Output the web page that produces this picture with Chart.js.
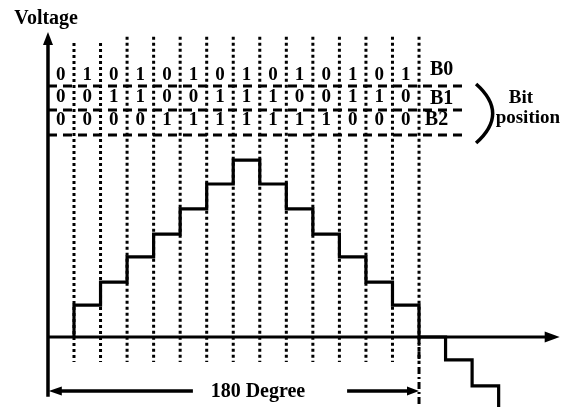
<!DOCTYPE html>
<html>
<head>
<meta charset="utf-8">
<script src="https://cdn.jsdelivr.net/npm/chart.js@4/dist/chart.umd.min.js"></script>
<style>
html, body { margin: 0; padding: 0; background: #fff; }
#graficoArea { width: 562px; height: 407px; position: relative; }
</style>
</head>
<body>
<div id="graficoArea"><canvas id="grafico"></canvas></div>
<script>
// Intervalos de amostragem (um por linha pontilhada) e o nível de tensão em cada um
const intervalos = [0, 1, 2, 3, 4, 5, 6, 7, 8, 9, 10, 11, 12, 13, 14, 15, 16, 17]
const niveis = [1.31, 2.25, 3.28, 4.22, 5.25, 6.27, 7.25, 6.27, 5.25, 4.22, 3.28, 2.25, 1.31, 0, -0.94, -2.0, -2.95, -2.95]

// Bits de cada intervalo (linha B0, B1, B2)
const bitB0 = [0, 1, 0, 1, 0, 1, 0, 1, 0, 1, 0, 1, 0, 1]
const bitB1 = [0, 0, 1, 1, 0, 0, 1, 1, 1, 0, 0, 1, 1, 0]
const bitB2 = [0, 0, 0, 0, 1, 1, 1, 1, 1, 1, 1, 0, 0, 0]
const nomesBits = ["B0", "B1", "B2"]

// Textos
const tituloEixoY = "Voltage"
const tituloEixoX = "180 Degree"
const rotuloBits = ["Bit", "position"]

// Monta os pontos da forma de onda em degrau (começa no eixo em 0)
let pontosDegrau = [{ x: intervalos[0], y: 0 }]
for (let i = 0; i < intervalos.length; i++) {
    pontosDegrau.push({ x: intervalos[i], y: niveis[i] })
}
// O degrau de cada intervalo dura até o próximo ponto
pontosDegrau.push({ x: 18.4, y: niveis[niveis.length - 1] })

// Linhas pontilhadas verticais, uma por bit (com null para separar)
let pontosPontilhados = []
for (let i = 0; i < bitB0.length; i++) {
    let topo = i < 2 ? 12.05 : 12.3
    pontosPontilhados.push({ x: i, y: topo }, { x: i, y: -1.02 }, { x: i, y: null })
}

// Linhas tracejadas horizontais que separam as linhas de bits
let pontosTracejados = [
    { x: -0.98, y: 10.29 }, { x: 14.8, y: 10.29 }, { x: 14.8, y: null },
    { x: -0.98, y: 9.3 }, { x: 14.62, y: 9.3 }, { x: 14.62, y: null },
    { x: -0.98, y: 8.28 }, { x: 14.8, y: 8.28 }
]

// Desenha uma ponta de seta
function ponta(ctx, x, y, dx, dy, comp, larg) {
    ctx.beginPath()
    ctx.moveTo(x, y)
    ctx.lineTo(x - dx * comp - dy * larg / 2, y - dy * comp + dx * larg / 2)
    ctx.lineTo(x - dx * comp + dy * larg / 2, y - dy * comp - dx * larg / 2)
    ctx.closePath()
    ctx.fill()
}

function linha(ctx, x1, y1, x2, y2) {
    ctx.beginPath()
    ctx.moveTo(x1, y1)
    ctx.lineTo(x2, y2)
    ctx.stroke()
}

// Plugin para eixos com setas, textos dos bits e a chave
const desenhosExtras = {
    id: 'desenhosExtras',
    afterDatasetsDraw(chart) {
        const ctx = chart.ctx
        const px = v => chart.scales.x.getPixelForValue(v)
        const py = v => chart.scales.y.getPixelForValue(v)
        ctx.save()
        ctx.strokeStyle = '#000'
        ctx.fillStyle = '#000'
        ctx.lineCap = 'butt'

        // Eixo Y com seta
        ctx.lineWidth = 3.5
        linha(ctx, px(-0.98), py(-2.45), px(-0.98), py(12.1))
        ponta(ctx, px(-0.98), py(12.5), 0, -1, 13, 10)

        // Eixo X com seta
        ctx.lineWidth = 3
        linha(ctx, px(-0.98), py(0), px(17.8), py(0))
        ponta(ctx, px(18.3), py(0), 1, 0, 15, 11)

        // Seta de 180 graus
        ctx.lineWidth = 3.5
        linha(ctx, px(-0.5), py(-2.21), px(4.48), py(-2.21))
        ponta(ctx, px(-0.95), py(-2.21), -1, 0, 13, 9)
        linha(ctx, px(10.29), py(-2.21), px(12.6), py(-2.21))
        ponta(ctx, px(13), py(-2.21), 1, 0, 12, 9)

        // Chave "Bit position"
        ctx.lineWidth = 3.5
        ctx.beginPath()
        ctx.moveTo(px(15.15), py(10.37))
        ctx.quadraticCurveTo(px(16.4), py(9.16), px(15.15), py(7.95))
        ctx.stroke()

        // Textos
        ctx.textBaseline = 'middle'
        ctx.textAlign = 'center'
        ctx.font = 'bold 20px "Liberation Serif"'
        ctx.fillText(tituloEixoY, px(-1.05), py(13.03))
        ctx.fillText(tituloEixoX, px(6.93), py(-2.25))
        ctx.font = 'bold 19px "Liberation Serif"'
        ctx.fillText(rotuloBits[0], px(16.84), py(9.8))
        ctx.fillText(rotuloBits[1], px(17.1), py(8.98))

        ctx.textAlign = 'left'
        ctx.font = 'bold 20px "Liberation Serif"'
        ctx.fillText(nomesBits[0], px(13.41), py(10.94))
        ctx.fillText(nomesBits[1], px(13.41), py(9.75))
        ctx.fillText(nomesBits[2], px(13.22), py(8.89))

        ctx.textAlign = 'center'
        ctx.font = 'bold 19px "Liberation Serif"'
        let linhasBits = [bitB0, bitB1, bitB2]
        let alturas = [10.75, 9.82, 8.9]
        for (let r = 0; r < linhasBits.length; r++) {
            for (let i = 0; i < linhasBits[r].length; i++) {
                ctx.fillText(String(linhasBits[r][i]), px(i - 0.5), py(alturas[r]))
            }
        }
        ctx.restore()
    }
}

const config = {
    type: 'line',
    data: {
        datasets: [
            {
                data: pontosPontilhados,
                borderColor: '#000',
                borderWidth: 3,
                borderDash: [3, 3],
                pointRadius: 0,
                spanGaps: false
            },
            {
                data: pontosTracejados,
                borderColor: '#000',
                borderWidth: 3,
                borderDash: [9, 6],
                pointRadius: 0,
                spanGaps: false
            },
            {
                // Linha traço-ponto no fim dos 180 graus
                data: [{ x: 13, y: 0 }, { x: 13, y: -2.87 }],
                borderColor: '#000',
                borderWidth: 3,
                borderDash: [7, 3, 2, 3],
                pointRadius: 0
            },
            {
                // Forma de onda em degrau (horizontal primeiro, depois vertical)
                data: pontosDegrau,
                borderColor: '#000',
                borderWidth: 3.2,
                stepped: 'before',
                pointRadius: 0,
                fill: false
            }
        ]
    },
    options: {
        responsive: true,
        maintainAspectRatio: false,
        animation: false,
        layout: { padding: 0 },
        plugins: {
            legend: { display: false },
            tooltip: { enabled: false }
        },
        scales: {
            x: { type: 'linear', min: -2.788, max: 18.387, display: false },
            y: { type: 'linear', min: -2.869, max: 13.811, display: false }
        }
    },
    plugins: [desenhosExtras]
}

const ctx = document.getElementById('grafico').getContext('2d')
new Chart(ctx, config)
</script>
</body>
</html>
